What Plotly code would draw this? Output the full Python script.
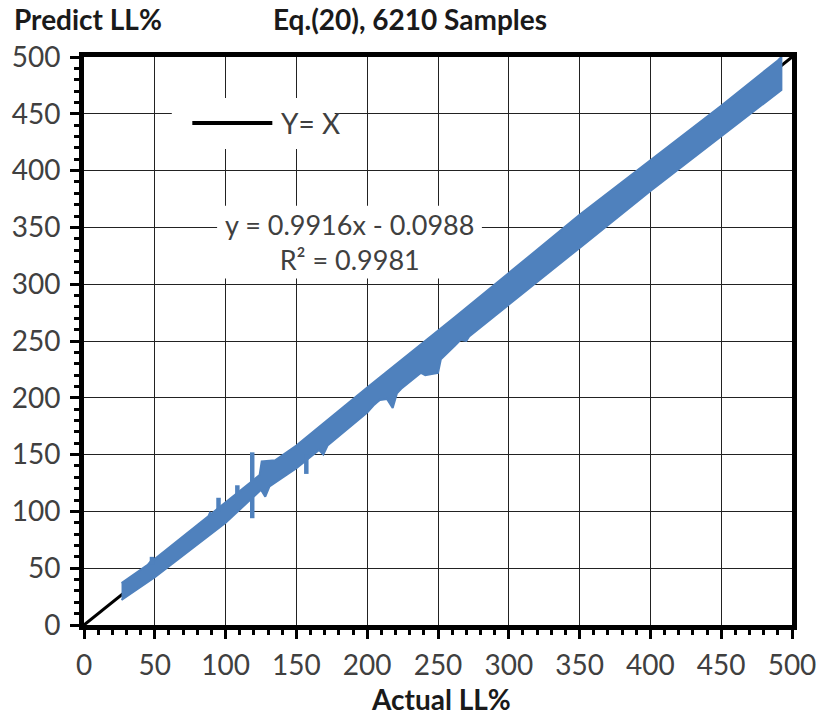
import plotly.graph_objects as go

# ---------------- data ----------------
# upper edge of the blue data band (Actual LL%, Predict LL%), left to right
band_upper_x = [26.5, 45, 47, 48.5, 50, 80, 88, 89, 90, 110, 124, 125.5, 135, 150, 200, 262, 300, 303, 350, 400, 450, 490, 492.5]
band_upper_y = [37, 53, 56, 56, 58, 88, 96, 99, 98, 118, 132, 144, 145, 158, 209, 271, 310, 313, 361, 409, 457, 497, 500]
# lower edge of the band, right to left
band_lower_x = [492.5, 450, 400, 350, 300, 272, 270, 266, 262, 252, 250, 241, 238, 224, 221, 218, 214, 209, 207, 205, 200,
                172, 169, 166, 150, 131, 128, 125, 100, 80, 50, 26.5]
band_lower_y = [471, 430, 382, 332, 282, 254, 250, 251, 246, 234, 222, 220, 222, 208, 204, 191, 199, 198, 196, 194, 187,
                158, 150, 154, 138, 122, 113, 119, 90, 71, 42, 22]
# outlying spikes (pairs of Actual, Predict segments)
spike_x = [48, 48, None, 95, 95, None, 108.3, 108.3, None, 118.8, 118.8, None, 157, 157]
spike_y = [53, 60, None, 100, 112, None, 112, 123, None, 94, 152, None, 150, 133]
# Y = X reference line
ident_x = [0, 500]
ident_y = [0, 500]

tick_vals = [0, 50, 100, 150, 200, 250, 300, 350, 400, 450, 500]
tick_text = [str(v) for v in tick_vals]

BLUE = "#4F81BD"
FONT = "Lato"
TXT = "#404040"

fig = go.Figure()
fig.add_trace(go.Scatter(x=ident_x, y=ident_y, mode="lines",
                         line=dict(color="black", width=3), name="Y= X", showlegend=False))
fig.add_trace(go.Scatter(x=band_upper_x + band_lower_x, y=band_upper_y + band_lower_y,
                         mode="lines", fill="toself", fillcolor=BLUE,
                         line=dict(color=BLUE, width=2), showlegend=False, name="Data"))
fig.add_trace(go.Scatter(x=spike_x, y=spike_y, mode="lines",
                         line=dict(color=BLUE, width=4.5), showlegend=False, name="Data"))

axis_common = dict(
    range=[0, 500], tickvals=tick_vals, ticktext=tick_text,
    showgrid=True, gridcolor="#222222", gridwidth=1.3,
    showline=True, linecolor="black", linewidth=5, mirror=True,
    ticks="outside", ticklen=9, tickwidth=3, tickcolor="black",
    minor=dict(dtick=10, ticks="outside", ticklen=5, tickwidth=3, tickcolor="black", showgrid=False),
    tickfont=dict(family=FONT, size=28, color=TXT),
    zeroline=False, fixedrange=True,
)
fig.update_xaxes(**axis_common, ticklabelstandoff=2)
fig.update_yaxes(**axis_common, ticklabelstandoff=4)

# white boxes for legend and equation label (above grid, below traces)
shapes = [
    dict(type="rect", xref="x", yref="y", x0=62, x1=177, y0=419, y1=464, layer="between",
         fillcolor="white", line=dict(width=0)),
    dict(type="rect", xref="x", yref="y", x0=94, x1=281, y0=305, y1=369, layer="between",
         fillcolor="white", line=dict(width=0)),
    dict(type="line", xref="x", yref="y", x0=76.5, x1=133, y0=442, y1=442, layer="above",
         line=dict(color="black", width=4)),
]

annotations = [
    dict(text="Y= X", x=137.5, y=442, xref="x", yref="y", xanchor="left", yanchor="middle",
         showarrow=False, font=dict(family=FONT, size=28, color=TXT)),
    dict(text="y = 0.9916x - 0.0988<br>R² = 0.9981", x=187.5, y=337, xref="x", yref="y",
         xanchor="center", yanchor="middle", showarrow=False, align="center",
         font=dict(family=FONT, size=27, color=TXT)),
    dict(text="<b>Predict LL%</b>", x=10, y=19, showarrow=False,
         font=dict(family=FONT, size=28, color="#1a1a1a")),
    dict(text="<b>Eq.(20), 6210 Samples</b>", x=415, y=19, showarrow=False,
         font=dict(family=FONT, size=28, color="#1a1a1a")),
    dict(text="<b>Actual LL%</b>", x=446, y=699, showarrow=False,
         font=dict(family=FONT, size=28, color="#1a1a1a")),
]
# convert pixel-positioned annotations to paper coords
W, H = 828, 716
L, R, T, B = 83, 25, 57, 91
pw, ph = W - L - R, H - T - B
for a in annotations[2:]:
    px, py = a["x"], a["y"]
    a["xref"], a["yref"] = "paper", "paper"
    a["x"] = (px - L) / pw
    a["y"] = (H - B - py) / ph
    a["xanchor"] = "left" if "Predict" in a["text"] else "center"
    a["yanchor"] = "middle"

fig.update_layout(
    width=W, height=H,
    margin=dict(l=L, r=R, t=T, b=B),
    paper_bgcolor="white", plot_bgcolor="white",
    showlegend=False,
    shapes=shapes, annotations=annotations,
)

fig.write_html("out.html", config={"displayModeBar": False},
               post_script="document.body.style.margin='0';")
